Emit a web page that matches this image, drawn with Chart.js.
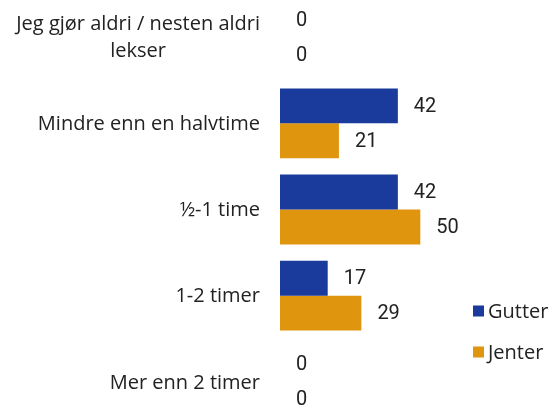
<!DOCTYPE html>
<html>
<head>
<meta charset="utf-8">
<script src="https://cdn.jsdelivr.net/npm/chart.js@4/dist/chart.umd.min.js"></script>
<style>
  html, body { margin: 0; padding: 0; background: #fff; overflow: hidden; }
  #wrap { position: absolute; left: 0; top: -6px; width: 555px; height: 431px; }
</style>
</head>
<body>
<div id="wrap"><canvas id="chart"></canvas></div>
<script>
// categories (multi-line label as array)
const categories = [
  ["Jeg gjør aldri / nesten aldri", "lekser"],
  "Mindre enn en halvtime",
  "½-1 time",
  "1-2 timer",
  "Mer enn 2 timer"
];
const seriesNames = ["Gutter", "Jenter"];
const gutter = [0, 42, 42, 17, 0];
const jenter = [0, 21, 50, 29, 0];

const BLUE = "#1b3b9c";
const ORANGE = "#e0950f";
const TEXT = "#222";
const FONT = "'Open Sans', Roboto, sans-serif";

// draws category labels (right aligned, lines centered on each other),
// value labels and the legend
const labelsPlugin = {
  id: "labels",
  afterDatasetsDraw(chart) {
    const ctx = chart.ctx;
    const yScale = chart.scales.y;
    ctx.save();
    ctx.fillStyle = TEXT;
    ctx.textBaseline = "middle";

    // category labels
    ctx.font = "20px " + FONT;
    ctx.textAlign = "center";
    const right = chart.chartArea.left - 20;
    categories.forEach((cat, i) => {
      const lines = Array.isArray(cat) ? cat : [cat];
      const w = Math.max(...lines.map(l => ctx.measureText(l).width));
      const cx = right - w / 2;
      const lh = 27;
      const y0 = yScale.getPixelForTick(i) - (lines.length - 1) * lh / 2 + 1;
      lines.forEach((l, j) => ctx.fillText(l, cx, y0 + j * lh));
    });

    // value labels
    ctx.font = "20px Roboto, sans-serif";
    ctx.textAlign = "left";
    chart.data.datasets.forEach((ds, di) => {
      chart.getDatasetMeta(di).data.forEach((bar, i) => {
        ctx.fillText(String(ds.data[i]), bar.x + 16, bar.y + 1);
      });
    });

    // legend
    ctx.font = "20px " + FONT;
    const legendY = [311, 352];
    chart.data.datasets.forEach((ds, di) => {
      const y = legendY[di] + 6; // canvas is shifted up 6px
      ctx.fillStyle = ds.backgroundColor;
      ctx.fillRect(473, y - 5.5, 11, 11);
      ctx.fillStyle = TEXT;
      ctx.fillText(ds.label, 488, y + 1);
    });
    ctx.restore();
  }
};

new Chart(document.getElementById("chart"), {
  type: "bar",
  data: {
    labels: categories,
    datasets: [
      { label: seriesNames[0], data: gutter, backgroundColor: BLUE },
      { label: seriesNames[1], data: jenter, backgroundColor: ORANGE }
    ]
  },
  options: {
    indexAxis: "y",
    responsive: true,
    maintainAspectRatio: false,
    animation: false,
    layout: { padding: { left: 280, right: 0, top: 0, bottom: 0 } },
    datasets: { bar: { categoryPercentage: 0.81, barPercentage: 1.0 } },
    scales: {
      x: { display: false, min: 0, max: 98 },
      y: { display: false }
    },
    plugins: {
      legend: { display: false },
      tooltip: { enabled: false }
    }
  },
  plugins: [labelsPlugin]
});
</script>
</body>
</html>
